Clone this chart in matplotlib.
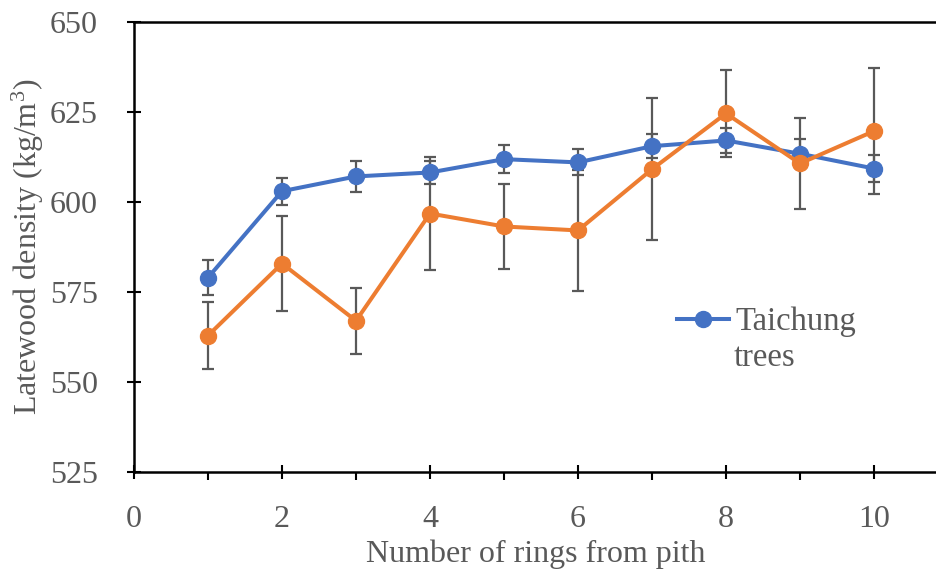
import matplotlib.pyplot as plt
from matplotlib.lines import Line2D
from matplotlib.ticker import MultipleLocator

# rings from pith
rings = [1, 2, 3, 4, 5, 6, 7, 8, 9, 10]

# Taichung trees (blue)
taichung = [579.0, 603.0, 607.1, 608.2, 611.9, 611.0, 615.5, 617.1, 613.4, 609.3]
taichung_err = [4.9, 3.8, 4.4, 3.2, 3.9, 3.6, 3.3, 3.5, 4.0, 3.8]

# second site (orange)
other = [562.9, 582.9, 567.0, 596.8, 593.2, 592.1, 609.1, 624.6, 610.7, 619.7]
other_err = [9.3, 13.3, 9.2, 15.8, 11.8, 16.7, 19.7, 12.1, 12.6, 17.5]

plt.rcParams['font.family'] = ['Liberation Serif', 'DejaVu Serif']
plt.rcParams['mathtext.fontset'] = 'custom'
plt.rcParams['mathtext.rm'] = 'Liberation Serif'
plt.rcParams['mathtext.it'] = 'Liberation Serif:italic'
text_color = "#595959"
fs = 23

fig = plt.figure(figsize=(9.37, 5.73), dpi=100)
ax = fig.add_axes([134 / 937, 1 - 472 / 573, 1 - 134 / 937, (472 - 22) / 573])

ax.errorbar(rings, taichung, yerr=taichung_err, color="#4472C4", lw=2.9,
            marker="o", markersize=11.5, ecolor="#595959", elinewidth=1.6,
            capsize=4.5, capthick=1.6, zorder=3)
ax.errorbar(rings, other, yerr=other_err, color="#ED7D31", lw=2.9,
            marker="o", markersize=11.5, ecolor="#595959", elinewidth=1.6,
            capsize=4.5, capthick=1.6, zorder=3)

ax.set_xlim(0, (937 - 134) / 74)
ax.set_ylim(525, 650)
ax.xaxis.set_major_locator(MultipleLocator(2))
ax.xaxis.set_minor_locator(MultipleLocator(1))
ax.yaxis.set_major_locator(MultipleLocator(25))

ax.spines["right"].set_visible(False)
for s in ["left", "bottom", "top"]:
    ax.spines[s].set_linewidth(1.8)
    ax.spines[s].set_color("black")

ax.tick_params(axis="both", which="major", direction="inout", length=10,
               width=1.5, labelsize=fs, labelcolor=text_color)
ax.tick_params(axis="x", which="minor", direction="out", length=6, width=1.5)
ax.tick_params(axis="x", which="major", pad=19)
ax.tick_params(axis="y", which="major", pad=21)

ax.set_xlabel("Number of rings from pith", fontsize=fs, color=text_color, labelpad=4)
ax.set_ylabel("Latewood density (kg/m$^3$)", fontsize=fs, color=text_color, labelpad=3)

# legend: blue series only, label wraps onto a second line
handle = Line2D([], [], color="#4472C4", lw=2.9, marker="o", markersize=11.5)
ax.legend([handle], ["Taichung"], loc="center left",
          bbox_to_anchor=(677 / 937, 1 - 322 / 573), bbox_transform=fig.transFigure,
          frameon=False, borderpad=0, borderaxespad=0, fontsize=23.5,
          handlelength=1.6, handletextpad=0.2, labelcolor=text_color)
fig.text(734 / 937, 1 - 366 / 573, "trees", fontsize=23.5, color=text_color,
         ha="left", va="baseline")

plt.savefig("out.png", dpi=100)
